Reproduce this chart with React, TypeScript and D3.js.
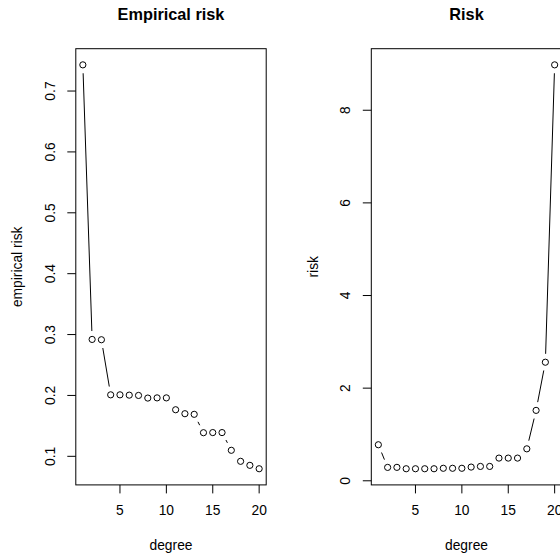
import React from "react";
import * as d3 from "d3";

const degrees = [1, 2, 3, 4, 5, 6, 7, 8, 9, 10, 11, 12, 13, 14, 15, 16, 17, 18, 19, 20];
const empiricalRisk = [
  0.743, 0.292, 0.2915, 0.201, 0.201, 0.2005, 0.2, 0.1957, 0.196, 0.196,
  0.1765, 0.17, 0.169, 0.1388, 0.139, 0.139, 0.1099, 0.0918, 0.0852, 0.0796,
];
const risk = [
  0.778, 0.289, 0.29, 0.26, 0.26, 0.26, 0.26, 0.27, 0.27, 0.27,
  0.296, 0.31, 0.31, 0.49, 0.49, 0.49, 0.69, 1.52, 2.56, 8.98,
];
const xTicks = [5, 10, 15, 20];
const empTicks = [0.1, 0.2, 0.3, 0.4, 0.5, 0.6, 0.7];
const riskTicks = [0, 2, 4, 6, 8];

const W = 560;
const H = 554;
const TOP = 48.7;
const BOTTOM = 484.9;
const PW = 190.4;
const FONT = "Liberation Sans, Arial, Helvetica, sans-serif";
const GAP = 8.4;

function ext(lo: number, hi: number): [number, number] {
  const r = hi - lo;
  return [lo - 0.04 * r, hi + 0.04 * r];
}

type PanelProps = {
  left: number;
  title: string;
  ylab: string;
  values: number[];
  yTicks: number[];
  fmt: (v: number) => string;
};

function Panel({ left, title, ylab, values, yTicks, fmt }: PanelProps) {
  const x = d3
    .scaleLinear()
    .domain(ext(d3.min(degrees)!, d3.max(degrees)!))
    .range([left, left + PW]);
  const y = d3
    .scaleLinear()
    .domain(ext(d3.min(values)!, d3.max(values)!))
    .range([BOTTOM, TOP]);
  const pts = degrees.map((d, i) => [x(d), y(values[i])] as [number, number]);
  const segs: JSX.Element[] = [];
  for (let i = 0; i < pts.length - 1; i++) {
    const [x1, y1] = pts[i];
    const [x2, y2] = pts[i + 1];
    const dx = x2 - x1;
    const dy = y2 - y1;
    const d = Math.sqrt(dx * dx + dy * dy);
    if (d > 2 * GAP) {
      const ux = dx / d;
      const uy = dy / d;
      segs.push(
        <line
          key={i}
          x1={x1 + ux * GAP}
          y1={y1 + uy * GAP}
          x2={x2 - ux * GAP}
          y2={y2 - uy * GAP}
          stroke="#000"
          strokeWidth={1}
        />
      );
    }
  }
  const cx = left + PW / 2;
  const cy = (TOP + BOTTOM) / 2;
  return (
    <g>
      <text
        x={cx}
        y={20}
        textAnchor="middle"
        fontWeight="bold"
        fontSize={16.3}
        fontFamily={FONT}
      >
        {title}
      </text>
      <rect x={left} y={TOP} width={PW} height={BOTTOM - TOP} fill="none" stroke="#000" strokeWidth={1} />
      {xTicks.map((t) => (
        <g key={"x" + t}>
          <line x1={x(t)} x2={x(t)} y1={BOTTOM} y2={BOTTOM + 8.5} stroke="#000" />
          <text
            x={x(t)}
            y={510}
            textAnchor="middle"
            dominantBaseline="central"
            fontSize={13.8}
            fontFamily={FONT}
          >
            {t}
          </text>
        </g>
      ))}
      {yTicks.map((t) => (
        <g key={"y" + t}>
          <line x1={left - 8.5} x2={left} y1={y(t)} y2={y(t)} stroke="#000" />
          <text
            transform={`translate(${left - 25.8},${y(t)}) rotate(-90)`}
            textAnchor="middle"
            dominantBaseline="central"
            fontSize={13.8}
            fontFamily={FONT}
          >
            {fmt(t)}
          </text>
        </g>
      ))}
      <text
        x={cx}
        y={545}
        textAnchor="middle"
        dominantBaseline="central"
        fontSize={13.8}
        fontFamily={FONT}
      >
        degree
      </text>
      <text
        transform={`translate(${left - 58},${cy}) rotate(-90)`}
        textAnchor="middle"
        dominantBaseline="central"
        fontSize={13.8}
        fontFamily={FONT}
      >
        {ylab}
      </text>
      {segs}
      {pts.map(([px, py], i) => (
        <circle key={"p" + i} cx={px} cy={py} r={3.1} fill="none" stroke="#000" strokeWidth={1} />
      ))}
    </g>
  );
}

export default function App() {
  return (
    <svg
      width={W}
      height={H}
      style={{ position: "absolute", left: 0, top: 0, background: "#fff" }}
    >
      <rect x={0} y={0} width={W} height={H} fill="#fff" />
      <Panel
        left={75.8}
        title="Empirical risk"
        ylab="empirical risk"
        values={empiricalRisk}
        yTicks={empTicks}
        fmt={(v) => d3.format(".1f")(v)}
      />
      <Panel
        left={371.3}
        title="Risk"
        ylab="risk"
        values={risk}
        yTicks={riskTicks}
        fmt={(v) => String(v)}
      />
    </svg>
  );
}
